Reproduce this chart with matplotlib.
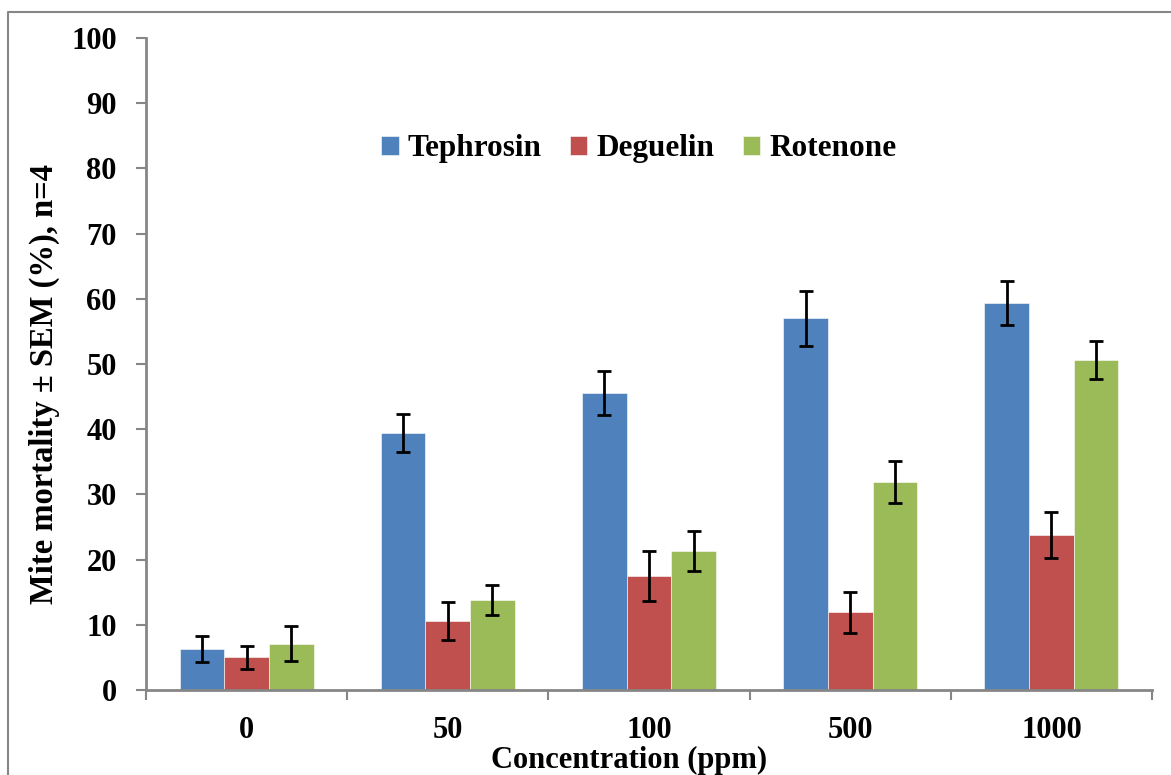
import matplotlib.pyplot as plt
import numpy as np
from matplotlib.lines import Line2D

plt.rcParams['font.family'] = ['Liberation Serif', 'DejaVu Serif']
plt.rcParams['font.weight'] = 'bold'

concentrations = ["0", "50", "100", "500", "1000"]
tephrosin = [6.3, 39.4, 45.6, 57.0, 59.4]
tephrosin_sem = [1.95, 2.95, 3.35, 4.2, 3.4]
deguelin = [5.0, 10.6, 17.5, 11.9, 23.8]
deguelin_sem = [1.8, 2.9, 3.85, 3.2, 3.5]
rotenone = [7.1, 13.8, 21.3, 31.9, 50.6]
rotenone_sem = [2.7, 2.35, 3.05, 3.15, 2.9]

series = [
   ("Tephrosin", tephrosin, tephrosin_sem, "#4F81BD"),
   ("Deguelin", deguelin, deguelin_sem, "#C0504D"),
   ("Rotenone", rotenone, rotenone_sem, "#9BBB59"),
]

fig = plt.figure(figsize=(11.71, 7.75), dpi=100)
ax = fig.add_axes([146 / 1171, 1 - 690 / 775, (1152 - 146) / 1171, (690 - 38) / 775])

x = np.arange(len(concentrations))
w = 0.222
for i, (name, vals, sem, col) in enumerate(series):
   ax.bar(x + (i - 1) * w, vals, w, color=col, edgecolor="white", linewidth=0.4, label=name,
          yerr=sem, error_kw=dict(ecolor="black", elinewidth=2, capsize=5, capthick=2))

ax.set_xlim(-0.5, len(concentrations) - 0.5)
ax.set_ylim(0, 100)
ax.set_yticks(range(0, 101, 10))
ax.set_xticks(x)
ax.set_xticklabels(concentrations)
ax.set_xticks(np.arange(-0.5, len(concentrations), 1), minor=True)
ax.tick_params(axis="x", which="major", length=0, pad=19, labelsize=22)
ax.tick_params(axis="x", which="minor", length=7, width=1.5, color="#868686", direction="out")
ax.tick_params(axis="y", length=7, width=1.5, color="#868686", pad=14, labelsize=22)

for side in ["top", "right"]:
   ax.spines[side].set_visible(False)
for side in ["left", "bottom"]:
   ax.spines[side].set_color("#868686")
   ax.spines[side].set_linewidth(2)

ax.set_xlabel("Concentration (ppm)", fontsize=22, fontweight="bold")
ax.xaxis.set_label_coords(0.48, -0.086)
ax.set_ylabel("Mite mortality ± SEM (%), n=4", fontsize=23.5, fontweight="bold")
ax.yaxis.set_label_coords(-0.085, 0.47)

ax.legend(loc="center", bbox_to_anchor=(0.49, 0.83), ncol=3, frameon=False,
          fontsize=22.5, handlelength=0.55, handleheight=0.55, handletextpad=0.3,
          columnspacing=0.9)

fig.add_artist(Line2D([8 / 1171, 8 / 1171, 1], [0, 1 - 12 / 775, 1 - 12 / 775],
                      transform=fig.transFigure, color="#868686", linewidth=1.5))

plt.savefig("out.png", dpi=100)
